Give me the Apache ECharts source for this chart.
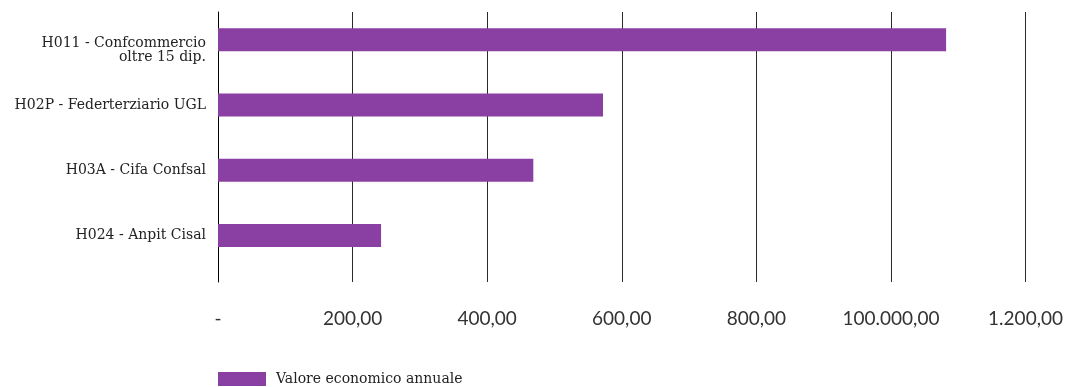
<!DOCTYPE html>
<html>
<head>
<meta charset="utf-8">
<script src="https://cdn.jsdelivr.net/npm/echarts@6/dist/echarts.min.js"></script>
<style>
html,body{margin:0;padding:0;background:#fff;overflow:hidden;}
#chart{width:1066px;height:387px;}
</style>
</head>
<body>
<div id="chart"></div>
<script>
const categories = ['H011 - Confcommercio\noltre 15 dip.', 'H02P - Federterziario UGL', 'H03A - Cifa Confsal', 'H024 - Anpit Cisal'];
const values = [1076, 569, 466, 241];
const tickLabels = ['-', '200,00', '400,00', '600,00', '800,00', '100.000,00', '1.200,00'];
const seriesName = 'Valore economico annuale';

const chart = echarts.init(document.getElementById('chart'), null, {renderer: 'canvas'});
const purple = '#8a3fa2';
chart.setOption({
  animation: false,
  legend: {
    left: 218, top: 372, padding: 0,
    itemWidth: 48, itemHeight: 14, itemGap: 10,
    icon: 'rect',
    textStyle: {fontFamily: 'DejaVu Serif', fontSize: 14, color: '#222', padding: [0, 0, 0, 5]},
    data: [seriesName]
  },
  grid: [
    {left: 218, right: 36, top: 12, height: 270},
    {left: 218, right: 36, top: 7, height: 261}
  ],
  xAxis: [
    {
      gridIndex: 0, type: 'value', min: 0, max: 1200, interval: 200,
      axisLine: {show: false}, axisTick: {show: false},
      splitLine: {show: true, lineStyle: {color: '#2a2a2a', width: 1}},
      axisLabel: {
        margin: 27, fontFamily: 'Lato', fontSize: 19, color: '#333',
        formatter: v => tickLabels[Math.round(v / 200)]
      }
    },
    {gridIndex: 1, type: 'value', min: 0, max: 1200, show: false}
  ],
  yAxis: [
    {
      gridIndex: 0, type: 'value', min: 0, max: 1,
      axisLine: {show: true, lineStyle: {color: '#000', width: 1}},
      axisTick: {show: false}, axisLabel: {show: false}, splitLine: {show: false}
    },
    {
      gridIndex: 1, type: 'category', inverse: true, data: categories,
      axisLine: {show: false}, axisTick: {show: false},
      axisLabel: {
        margin: 12, fontFamily: 'DejaVu Serif', fontSize: 14, color: '#222', lineHeight: 14,
        formatter: (v, i) => i === 0 ? '{s|}\n' + v : v,
        rich: {s: {height: 22, lineHeight: 22}}
      }
    }
  ],
  series: [{
    name: seriesName, type: 'bar', xAxisIndex: 1, yAxisIndex: 1,
    data: values, barWidth: 23,
    itemStyle: {color: purple}
  }]
});
</script>
</body>
</html>
